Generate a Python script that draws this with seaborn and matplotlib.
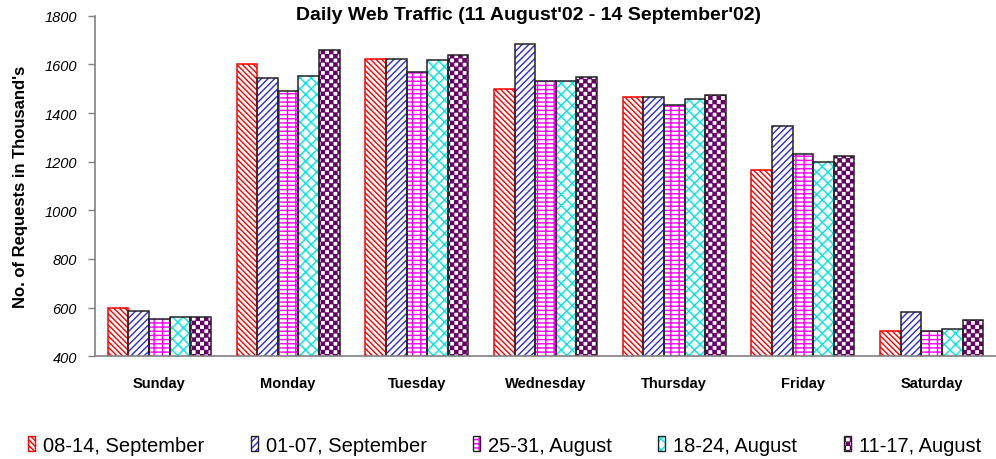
import numpy as np
import pandas as pd
import seaborn as sns

from matplotlib import pyplot as plt
from matplotlib import hatch as mhatch
from matplotlib.path import Path
from matplotlib.patches import Patch
from matplotlib.legend_handler import HandlerTuple

days  = ['Sunday', 'Monday', 'Tuesday', 'Wednesday', 'Thursday', 'Friday', 'Saturday']
weeks = ['08-14, September', '01-07, September', '25-31, August',
         '18-24, August', '11-17, August']

sep_08_14 = [600, 1601, 1621, 1499, 1467, 1164, 503]
sep_01_07 = [587, 1544, 1623, 1685, 1467, 1345, 581]
aug_25_31 = [552, 1489, 1568, 1531, 1431, 1233, 503]
aug_18_24 = [562, 1552, 1619, 1533, 1457, 1199, 511]
aug_11_17 = [562, 1659, 1640, 1549, 1473, 1225, 550]

hatch_colors = ['#ff0000', '#2a2af0', '#ff00ff', '#00e8e8', '#660066']
edge_colors  = ['#ff0000', '#222222', '#222222', '#222222', '#222222']
hatches      = ['\\\\\\\\\\\\', '/////', '----||', 'xxx', '....']


class CheckerHatch(mhatch.HatchPatternBase):
    # '.' becomes a checkerboard of filled squares (Excel style)
    def __init__(self, hatch, density):
        self.n = hatch.count('.') * density
        self.cells = [(i, j) for i in range(self.n) for j in range(self.n)
                      if (i + j) % 2 == 0]
        self.num_vertices = len(self.cells) * 5

    def set_vertices_and_codes(self, vertices, codes):
        step  = 1.0 / self.n
        inset = 0.12 * step
        sq = np.array([[0, 0], [1, 0], [1, 1], [0, 1], [0, 0]]) * (step - 2 * inset) + inset
        for k, (i, j) in enumerate(self.cells):
            vertices[k * 5:(k + 1) * 5] = sq + [i * step, j * step]
            codes[k * 5:(k + 1) * 5] = [Path.MOVETO, Path.LINETO, Path.LINETO,
                                        Path.LINETO, Path.CLOSEPOLY]


mhatch._hatch_types = [t for t in mhatch._hatch_types
                       if t is not mhatch.SmallFilledCircles] + [CheckerHatch]

df = pd.DataFrame({
    'day':      days * 5,
    'week':     np.repeat(weeks, len(days)),
    'requests': sep_08_14 + sep_01_07 + aug_25_31 + aug_18_24 + aug_11_17,
})

sns.set_style('white')
plt.rcParams['font.family'] = ['Liberation Sans', 'DejaVu Sans']
plt.rcParams['hatch.linewidth'] = 1.0
plt.rcParams['text.color'] = 'black'
plt.rcParams['axes.labelcolor'] = 'black'
plt.rcParams['xtick.color'] = 'black'
plt.rcParams['ytick.color'] = 'black'

fig = plt.figure(figsize=(9.96, 4.6), dpi=100)
ax  = fig.add_axes([0.0954, 0.2233, 0.9046, 0.7404])

sns.barplot(data=df, x='day', y='requests', hue='week', palette=hatch_colors,
            saturation=1, width=0.8, errorbar=None, legend=False, ax=ax)
for cont, c, h in zip(ax.containers[:5], hatch_colors, hatches):
    for bar in cont:
        bar.set_facecolor('white')
        bar.set_edgecolor(c)
        bar.set_hatch(h)
        bar.set_linewidth(0)

# outlines on top
sns.barplot(data=df, x='day', y='requests', hue='week', palette=edge_colors,
            saturation=1, width=0.8, errorbar=None, legend=False, fill=False,
            linewidth=1.1, ax=ax)

ax.set_ylim(400, 1800)
ax.set_yticks(range(400, 1801, 200))
ax.set_xlim(-0.5, 6.46)
ax.set_xticks(np.arange(-0.5, 7, 1), minor=True)
ax.tick_params(axis='x', which='major', length=0, pad=14, labelsize=10.5)
ax.tick_params(axis='x', which='minor', length=5, color='#808080', width=1, direction='out')
ax.tick_params(axis='y', length=5, color='#808080', width=1, direction='out',
               labelsize=10.5, pad=8, left=True, labelcolor='black')
for lbl in ax.get_xticklabels():
    lbl.set_fontweight('bold')
for lbl in ax.get_yticklabels():
    lbl.set_fontstyle('italic')

for s in ['top', 'right']:
    ax.spines[s].set_visible(False)
for s in ['left', 'bottom']:
    ax.spines[s].set_color('#808080')
    ax.spines[s].set_linewidth(1.2)

ax.set_xlabel('')
ax.set_ylabel("No. of Requests in Thousand's", fontsize=12, fontweight='bold')
ax.yaxis.set_label_coords(-0.074, 0.5)

fig.text(528 / 996, 1 - 16 / 460,
         "Daily Web Traffic (11 August'02 - 14 September'02)",
         ha='center', va='center', fontsize=14, fontweight='bold')

handles = [(Patch(facecolor='white', edgecolor=c, hatch=h, linewidth=0),
            Patch(facecolor='none', edgecolor=e, linewidth=1))
           for c, e, h in zip(hatch_colors, edge_colors, hatches)]
fig.legend(handles, weeks, handler_map={tuple: HandlerTuple(ndivide=1, pad=0)},
           ncol=5, loc='center left', bbox_to_anchor=(0.028, 0.03),
           frameon=False, fontsize=14.5, handlelength=0.35, handleheight=0.8,
           handletextpad=0.4, columnspacing=2.3, borderaxespad=0, borderpad=0)

fig.savefig('out.png', dpi=100)
